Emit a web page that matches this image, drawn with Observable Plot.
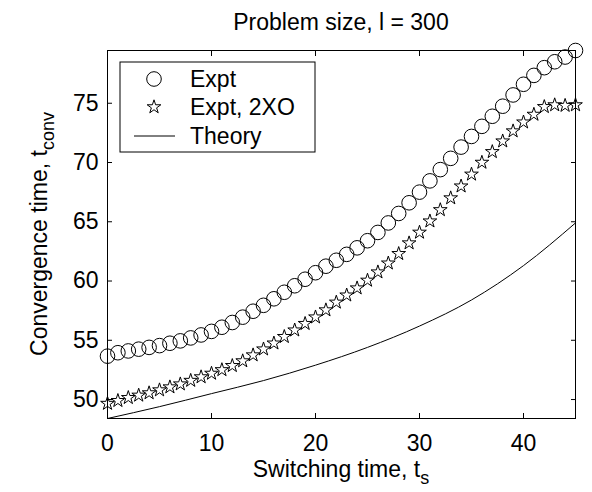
<!DOCTYPE html>
<html>
<head>
<meta charset="utf-8">
<script src="https://cdn.jsdelivr.net/npm/d3@7"></script>
<script src="https://cdn.jsdelivr.net/npm/@observablehq/plot@0.6"></script>
<style>
  body { margin: 0; background: #fff; }
  #chart { position: relative; width: 592px; height: 492px; background: #fff;
           font-family: "Liberation Sans", Arial, Helvetica, sans-serif; color: #000; }
  #title { height: 40px; box-sizing: border-box; padding: 4px 17px 0 107px; line-height: 36px;
           font-size: 23px; text-align: center; white-space: nowrap; }
</style>
</head>
<body>
<div id="chart"><div id="title"></div></div>
<script>
// ---- data ----
const switchingTimes = [0,1,2,3,4,5,6,7,8,9,10,11,12,13,14,15,16,17,18,19,20,21,22,23,24,25,26,27,28,29,30,31,32,33,34,35,36,37,38,39,40,41,42,43,44,45];
const exptValues = [53.66,53.95,54.1,54.25,54.4,54.55,54.75,54.95,55.2,55.45,55.75,56.1,56.5,56.95,57.45,57.95,58.5,59.05,59.6,60.15,60.7,61.25,61.75,62.25,62.8,63.4,64.1,64.9,65.7,66.6,67.5,68.45,69.4,70.35,71.3,72.2,73.05,73.9,74.75,75.7,76.6,77.35,78.0,78.5,78.9,79.45];
const expt2XOValues = [49.66,49.9,50.15,50.35,50.55,50.8,51.05,51.3,51.6,51.9,52.2,52.5,52.85,53.25,53.75,54.25,54.75,55.3,55.85,56.4,56.95,57.55,58.2,58.8,59.4,60.05,60.75,61.5,62.3,63.2,64.1,65.05,66.0,67.0,68.0,69.0,70.0,70.9,71.8,72.65,73.4,74.05,74.7,74.85,74.8,74.85];
const theoryTimes = [0,5,10,15,20,25,30,35,40,45];
const theoryValues = [48.4,49.4,50.5,51.6,52.9,54.4,56.2,58.4,61.3,64.9];
const xTicks = [0,10,20,30,40];
const yTicks = [50,55,60,65,70,75];
const xDomain = [0,45];
const yDomain = [48.4,79.45];
const seriesNames = ["Expt","Expt, 2XO","Theory"];
const titleText = "Problem size, l = 300";
const xLabel = {main: "Switching time, t", sub: "s"};
const yLabel = {main: "Convergence time, t", sub: "conv"};

// ---- tables ----
const expt = switchingTimes.map((x, i) => ({x, y: exptValues[i]}));
const expt2 = switchingTimes.map((x, i) => ({x, y: expt2XOValues[i]}));
const theory = theoryTimes.map((x, i) => ({x, y: theoryValues[i]}));

const FONT = '"Liberation Sans", Arial, Helvetica, sans-serif';
const W = 592, H = 452, ML = 107, MR = 17, MT = 10, MB = 74;
const CIRCLE_R = 7.3, STAR_R = 4.3;

document.getElementById("title").textContent = titleText;

const plot = Plot.plot({
  width: W, height: H,
  marginLeft: ML, marginRight: MR, marginTop: MT, marginBottom: MB,
  style: {fontFamily: FONT, fontSize: "23px", color: "black", background: "white", overflow: "visible"},
  x: {domain: xDomain, ticks: xTicks, label: null},
  y: {domain: yDomain, ticks: yTicks, label: null},
  marks: [
    Plot.line(theory, {x: "x", y: "y", stroke: "black", strokeWidth: 1, curve: "monotone-x"}),
    Plot.dot(expt, {x: "x", y: "y", r: CIRCLE_R, stroke: "black", fill: "none", strokeWidth: 1}),
    Plot.dot(expt2, {x: "x", y: "y", symbol: "star", r: STAR_R, stroke: "black", fill: "none", strokeWidth: 1}),
    Plot.axisX({anchor: "bottom", ticks: xTicks, tickSize: -5, tickPadding: 21, label: null}),
    Plot.axisX({anchor: "top", ticks: xTicks, tickSize: -5, tickFormat: () => "", label: null}),
    Plot.axisY({anchor: "left", ticks: yTicks, tickSize: -5, tickPadding: 14, label: null}),
    Plot.axisY({anchor: "right", ticks: yTicks, tickSize: -5, tickFormat: () => "", label: null}),
    Plot.frame({stroke: "black", strokeWidth: 1})
  ]
});
document.getElementById("chart").appendChild(plot);

// ---- axis labels with subscripts ----
const svg = d3.select(plot);
const frameCx = ML + (W - ML - MR) / 2;
const frameCy = MT + (H - MT - MB) / 2;

const xl = svg.append("text")
  .attr("x", frameCx).attr("y", H - 15)
  .attr("text-anchor", "middle")
  .style("font-family", FONT).style("font-size", "23px").attr("fill", "black");
xl.append("tspan").text(xLabel.main);
xl.append("tspan").attr("dy", 7).style("font-size", "18px").text(xLabel.sub);

const yl = svg.append("text")
  .attr("transform", `translate(47,${frameCy}) rotate(-90)`)
  .attr("text-anchor", "middle")
  .style("font-family", FONT).style("font-size", "23px").attr("fill", "black");
yl.append("tspan").text(yLabel.main);
yl.append("tspan").attr("dy", 7).style("font-size", "18px").text(yLabel.sub);

// ---- legend ----
const lg = svg.append("g").attr("transform", "translate(120,22)");
lg.append("rect").attr("width", 195).attr("height", 90)
  .attr("fill", "white").attr("stroke", "black").attr("stroke-width", 1);
const rowY = [17, 45, 74];
const mx = 34;
lg.append("circle").attr("cx", mx).attr("cy", rowY[0]).attr("r", CIRCLE_R)
  .attr("fill", "none").attr("stroke", "black");
lg.append("path")
  .attr("d", d3.symbol(d3.symbolStar, Math.PI * STAR_R * STAR_R)())
  .attr("transform", `translate(${mx},${rowY[1]})`)
  .attr("fill", "none").attr("stroke", "black");
lg.append("line").attr("x1", 14).attr("x2", 55).attr("y1", rowY[2]).attr("y2", rowY[2])
  .attr("stroke", "black").attr("stroke-width", 1);
seriesNames.forEach((name, i) => {
  lg.append("text").attr("x", 70).attr("y", rowY[i]).attr("dy", "0.35em")
    .attr("text-anchor", "start")
    .style("font-family", FONT).style("font-size", "23px").attr("fill", "black").text(name);
});
</script>
</body>
</html>
